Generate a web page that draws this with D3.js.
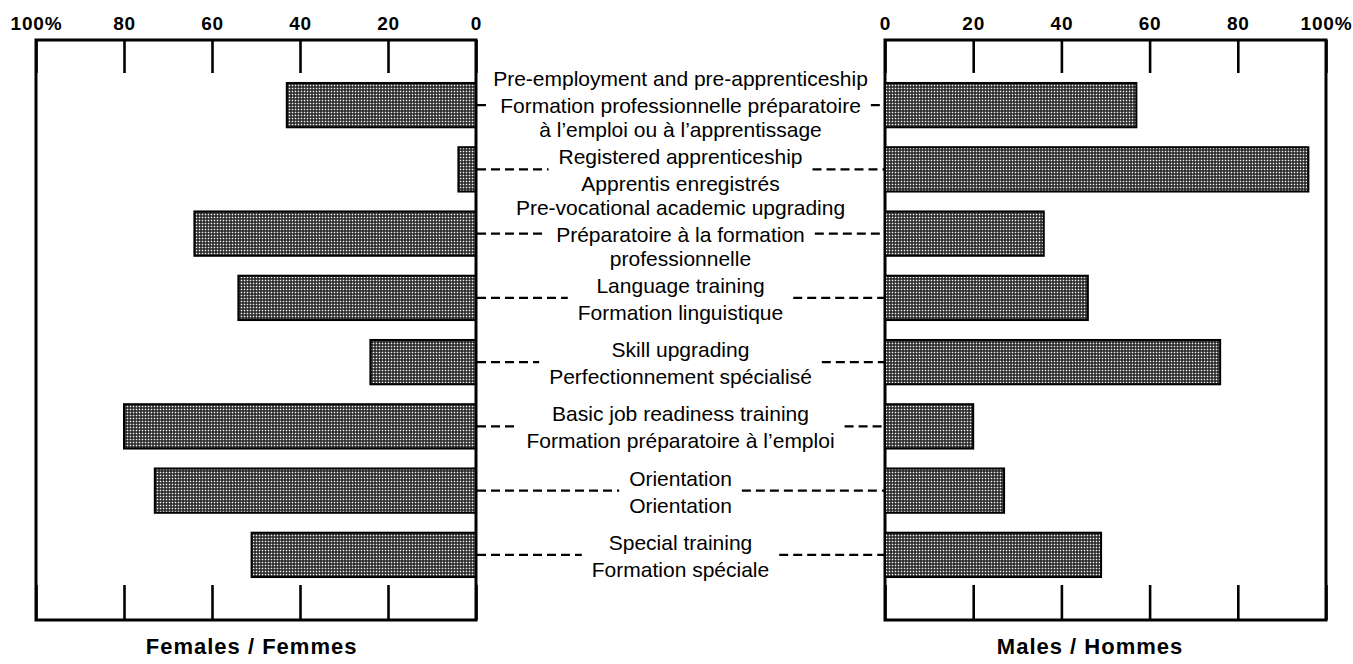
<!DOCTYPE html>
<html>
<head>
<meta charset="utf-8">
<script src="https://cdn.jsdelivr.net/npm/d3@7"></script>
<style>
  body { margin: 0; background: #fff; }
  svg text { font-family: "Liberation Sans", Arial, Helvetica, sans-serif; fill: #000; }
</style>
</head>
<body>
<div id="chart"><svg></svg></div>
<script>
// programs, english label lines above the dashed line, french lines below
var programs = ["preemp", "registered", "prevoc", "language", "skill", "basic", "orientation", "special"]
var englishLines = [
  ["Pre-employment and pre-apprenticeship"],
  ["Registered apprenticeship"],
  ["Pre-vocational academic upgrading"],
  ["Language training"],
  ["Skill upgrading"],
  ["Basic job readiness training"],
  ["Orientation"],
  ["Special training"]
]
var frenchLines = [
  ["Formation professionnelle préparatoire", "à l\u2019emploi ou à l\u2019apprentissage"],
  ["Apprentis enregistrés"],
  ["Préparatoire à la formation", "professionnelle"],
  ["Formation linguistique"],
  ["Perfectionnement spécialisé"],
  ["Formation préparatoire à l\u2019emploi"],
  ["Orientation"],
  ["Formation spéciale"]
]
// percent of participants
var females = [43, 4, 64, 54, 24, 80, 73, 51]
var males   = [57, 96, 36, 46, 76, 20, 27, 49]
var tickValues = [0, 20, 40, 60, 80, 100]

var W = 1353, H = 664
var svg = d3.select("#chart svg").attr("width", W).attr("height", H)

// bar texture
var pat = svg.append("defs").append("pattern")
    .attr("id", "dots").attr("patternUnits", "userSpaceOnUse")
    .attr("width", 3).attr("height", 3)
pat.append("rect").attr("width", 3).attr("height", 3).attr("fill", "#1c1c1c")
pat.append("rect").attr("x", 0.7).attr("y", 0.7).attr("width", 1.6).attr("height", 1.6).attr("fill", "#f4f4f4")

var frameTop = 40, frameBottom = 620

var xL = d3.scaleLinear().domain([0, 100]).range([476, 36])
var xR = d3.scaleLinear().domain([0, 100]).range([885, 1326])
var y = d3.scaleBand().domain(programs).range([73, 587])
    .paddingInner(0.31).paddingOuter(0.155)

var fmt = function(d) { return d === 100 ? "100%" : d }

function panel(x, vals, title, titleX) {
  var g = svg.append("g")

  // top axis: labels above, ticks pointing into the frame
  var at = g.append("g").attr("transform", "translate(0," + frameTop + ")")
      .call(d3.axisTop(x).tickValues(tickValues).tickFormat(fmt).tickSizeInner(-33).tickSizeOuter(0).tickPadding(10))
  at.select(".domain").remove()
  at.selectAll("line").attr("stroke", "#000").attr("stroke-width", 2.6)
  at.selectAll("text").attr("font-size", 19).attr("font-weight", "bold")
      .attr("letter-spacing", 0.8).attr("fill", "#000")
      .attr("font-family", "'Liberation Sans', Arial, sans-serif")

  var ab = g.append("g").attr("transform", "translate(0," + frameBottom + ")")
      .call(d3.axisBottom(x).tickValues(tickValues).tickFormat("").tickSizeInner(-35).tickSizeOuter(0))
  ab.select(".domain").remove()
  ab.selectAll("line").attr("stroke", "#000").attr("stroke-width", 2.6)

  // frame
  g.append("rect")
      .attr("x", Math.min(x(0), x(100))).attr("y", frameTop)
      .attr("width", Math.abs(x(100) - x(0))).attr("height", frameBottom - frameTop)
      .attr("fill", "none").attr("stroke", "#000").attr("stroke-width", 3)

  g.selectAll(".bar")
    .data(vals)
    .enter().append("rect")
      .attr("class", "bar")
      .attr("x", function(d) { return Math.min(x(0), x(d)) })
      .attr("y", function(d, i) { return y(programs[i]) })
      .attr("width", function(d) { return Math.abs(x(d) - x(0)) })
      .attr("height", y.bandwidth())
      .attr("fill", "url(#dots)")
      .attr("stroke", "#000").attr("stroke-width", 2)

  g.append("text")
      .attr("x", titleX).attr("y", 654)
      .attr("text-anchor", "middle")
      .attr("font-size", 22).attr("font-weight", "bold").attr("letter-spacing", 1)
      .text(title)
}

panel(xL, females, "Females / Femmes", xL(51))
panel(xR, males, "Males / Hommes", xR(46.5))

// centre labels with dashed leaders
var midX = (xL(0) + xR(0)) / 2
var lineH = 24
var labels = svg.append("g")

programs.forEach(function(p, i) {
  var c = y(p) + y.bandwidth() / 2
  var shift = -(frenchLines[i].length - 1) * (lineH / 2 + 2)
  var rows = []
  englishLines[i].slice().reverse().forEach(function(t, k) {
    rows.push({ t: t, b: c - 5 + shift - k * lineH })
  })
  frenchLines[i].forEach(function(t, k) {
    rows.push({ t: t, b: c + 22 + shift + k * lineH })
  })

  var maxW = 0
  rows.forEach(function(r) {
    var tx = labels.append("text")
        .attr("x", midX).attr("y", r.b)
        .attr("text-anchor", "middle")
        .attr("font-size", 21)
        .text(r.t)
    // only lines that sit at the level of the leader limit its length
    if (r.b > c - 12 && r.b < c + 24) {
      maxW = Math.max(maxW, tx.node().getComputedTextLength())
    }
  })

  var gap = 10
  labels.append("line")
      .attr("x1", xL(0) + 1).attr("x2", midX - maxW / 2 - gap)
      .attr("y1", c).attr("y2", c)
      .attr("stroke", "#000").attr("stroke-width", 2.2).attr("stroke-dasharray", "9,5")
  labels.append("line")
      .attr("x1", midX + maxW / 2 + gap).attr("x2", xR(0) - 1)
      .attr("y1", c).attr("y2", c)
      .attr("stroke", "#000").attr("stroke-width", 2.2).attr("stroke-dasharray", "9,5")
})
</script>
</body>
</html>
